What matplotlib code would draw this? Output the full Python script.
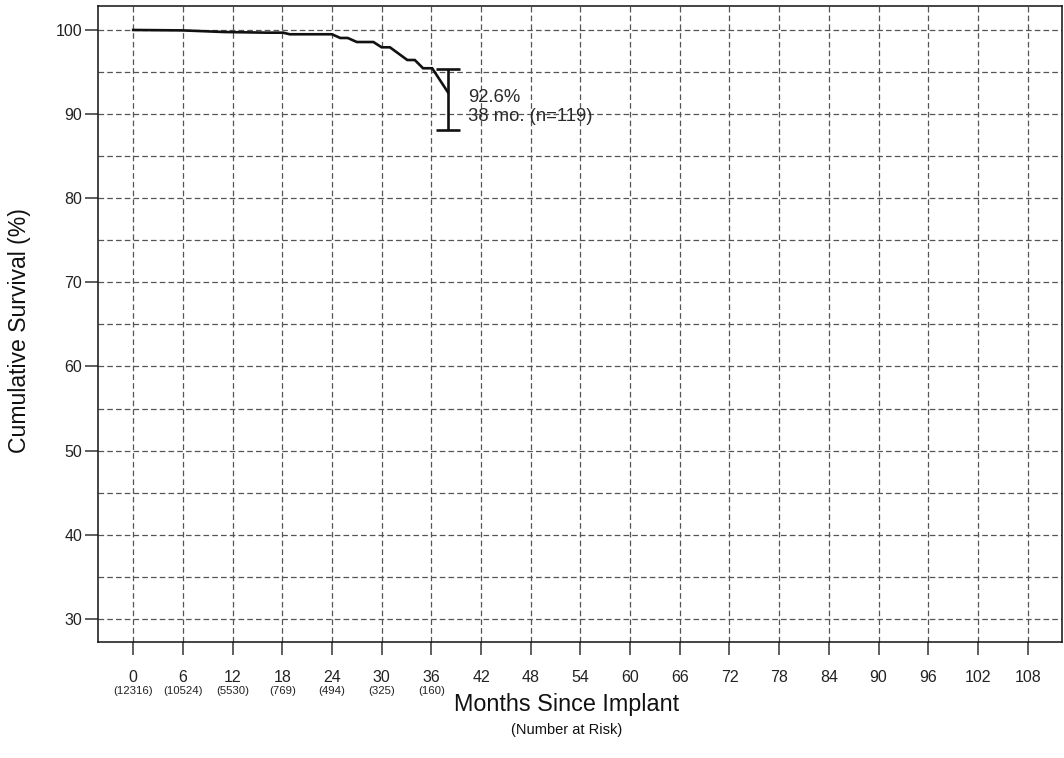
import matplotlib
matplotlib.use("Agg")
import matplotlib.pyplot as plt
from matplotlib.transforms import blended_transform_factory

plt.rcParams['font.family'] = ['Liberation Sans', 'DejaVu Sans']

# Kaplan-Meier style survival estimate (months, cumulative survival %)
months = [0, 6, 10.9, 16.2, 18.1, 18.9, 24.0, 25.0, 25.9, 27.0, 29.0,
          30.0, 31.0, 33.1, 34.0, 35.0, 36.1, 38.0]
survival = [100.0, 99.95, 99.76, 99.68, 99.68, 99.49, 99.49, 99.05, 99.05,
            98.57, 98.57, 97.94, 97.94, 96.43, 96.43, 95.45, 95.45, 92.6]

# Final estimate and its confidence interval
final_month = 38
final_value = 92.6
ci_low = 88.1
ci_high = 95.4
final_n = 119

# Axis ticks and number at risk
month_ticks = list(range(0, 109, 6))
risk_months = [0, 6, 12, 18, 24, 30, 36]
at_risk = [12316, 10524, 5530, 769, 494, 325, 160]
y_ticks = list(range(30, 101, 10))
y_grid = list(range(30, 101, 5))

W, H = 1064, 758
fig = plt.figure(figsize=(W / 100, H / 100), dpi=100)
ax = fig.add_axes([98 / W, 1 - 642 / H, (1062 - 98) / W, (642 - 6) / H])

ax.set_xlim(-4.25, 112.15)
ax.set_ylim(27.25, 102.85)

grid_kw = dict(color='#555555', linewidth=0.9, linestyle=(0, (4.5, 2.5)), zorder=1)
for g in y_grid:
    ax.axhline(g, **grid_kw)
for g in month_ticks:
    ax.axvline(g, **grid_kw)

ax.plot(months, survival, color='#111111', linewidth=1.9, zorder=3,
        solid_joinstyle='miter')

ax.errorbar([final_month], [final_value],
            yerr=[[final_value - ci_low], [ci_high - final_value]],
            fmt='none', ecolor='#111111', elinewidth=1.9, capsize=8.7,
            capthick=1.9, zorder=3)

ax.text(final_month + 2.45, 90.85,
        f"{final_value}%\n{final_month} mo. (n={final_n})",
        fontsize=13.3, color='#2a2a2a', va='center', ha='left',
        linespacing=1.2, zorder=4)

ax.set_xticks(month_ticks)
ax.set_xticklabels([str(m) for m in month_ticks], fontsize=11.5, color='#222222')
ax.set_yticks(y_ticks)
ax.set_yticklabels([str(v) for v in y_ticks], fontsize=11.5, color='#222222')
ax.tick_params(axis='both', direction='out', length=9.5, width=1.1,
               color='#333333')
ax.tick_params(axis='x', pad=11)
ax.tick_params(axis='y', pad=2)

for s in ax.spines.values():
    s.set_linewidth(1.1)
    s.set_color('#111111')

trans = blended_transform_factory(ax.transData, fig.transFigure)
for m, n in zip(risk_months, at_risk):
    ax.text(m, 1 - 691 / H, f"({n})", transform=trans, fontsize=8.2,
            color='#222222', ha='center', va='center')

fig.text(567 / W, 1 - 705 / H, "Months Since Implant", fontsize=16.8,
         color='#111111', ha='center', va='center')
fig.text(567 / W, 1 - 730 / H, "(Number at Risk)", fontsize=10.5,
         color='#111111', ha='center', va='center')
fig.text(20 / W, 1 - 331 / H, "Cumulative Survival (%)", fontsize=16.6,
         color='#111111', ha='center', va='center', rotation=90)

fig.savefig("out.png", dpi=100)
